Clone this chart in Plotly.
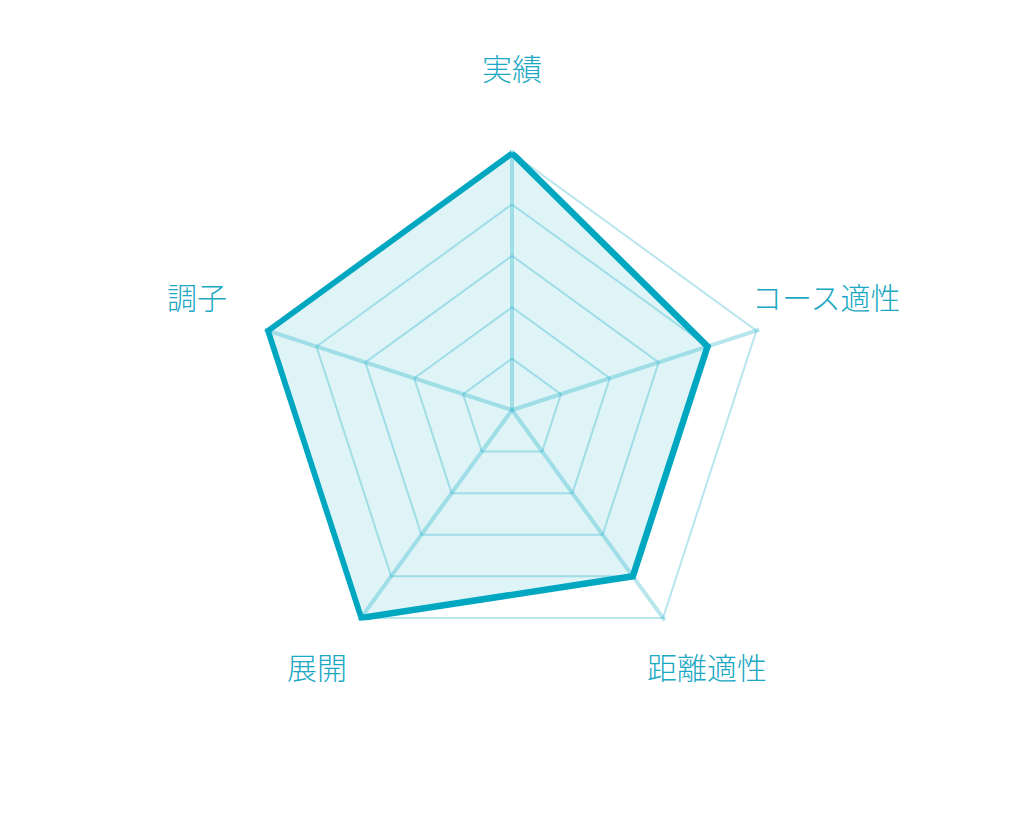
import math

import plotly.graph_objects as go

# --- data ---
categories = ["実績", "コース適性", "距離適性", "展開", "調子"]
values = [5, 4, 4, 5, 5]
max_value = 5
grid_steps = [1, 2, 3, 4, 5]

main_color = "#00A7C0"
text_color = "#1AA8C3"
grid_color = "rgba(0,167,192,0.28)"

# polar placement (page has an 8px body margin)
W, H = 1024, 820
cx, cy, radius = 504, 402, 257
pad = 1.012  # small headroom so the thick outline is not clipped
label_dist = 331
label_lift = 12

fig = go.Figure()

# filled score polygon
fig.add_trace(
    go.Scatterpolar(
        r=values + values[:1],
        theta=categories + categories[:1],
        mode="lines",
        line=dict(color=main_color, width=6.5),
        fill="toself",
        fillcolor="rgba(0,167,192,0.13)",
        cliponaxis=False,
        hoverinfo="skip",
        showlegend=False,
    )
)

# category labels outside the grid, clockwise from the top
for i, cat in enumerate(categories):
    ang = math.radians(90 - 360 * i / len(categories))
    fig.add_annotation(
        x=(cx + label_dist * math.cos(ang)) / W,
        y=(H - cy + label_dist * math.sin(ang) + label_lift) / H,
        xref="paper",
        yref="paper",
        text=cat,
        showarrow=False,
        xanchor="center",
        yanchor="middle",
        font=dict(family="Noto Sans CJK JP", size=30, color=text_color, weight=300),
    )

r_out = radius * pad
fig.update_layout(
    width=W,
    height=H,
    margin=dict(l=0, r=0, t=0, b=0),
    paper_bgcolor="white",
    plot_bgcolor="white",
    polar=dict(
        domain=dict(
            x=[(cx - r_out) / W, (cx + r_out) / W],
            y=[(H - cy - r_out) / H, (H - cy + r_out) / H],
        ),
        bgcolor="rgba(0,0,0,0)",
        gridshape="linear",
        radialaxis=dict(
            range=[0, max_value * pad],
            tickvals=grid_steps,
            showticklabels=False,
            ticks="",
            showline=False,
            gridcolor=grid_color,
            gridwidth=1.5,
        ),
        angularaxis=dict(
            direction="clockwise",
            rotation=90,
            showticklabels=False,
            ticks="",
            showline=False,
            gridcolor=grid_color,
            gridwidth=3.5,
        ),
    ),
)

fig.write_html("out.html")
